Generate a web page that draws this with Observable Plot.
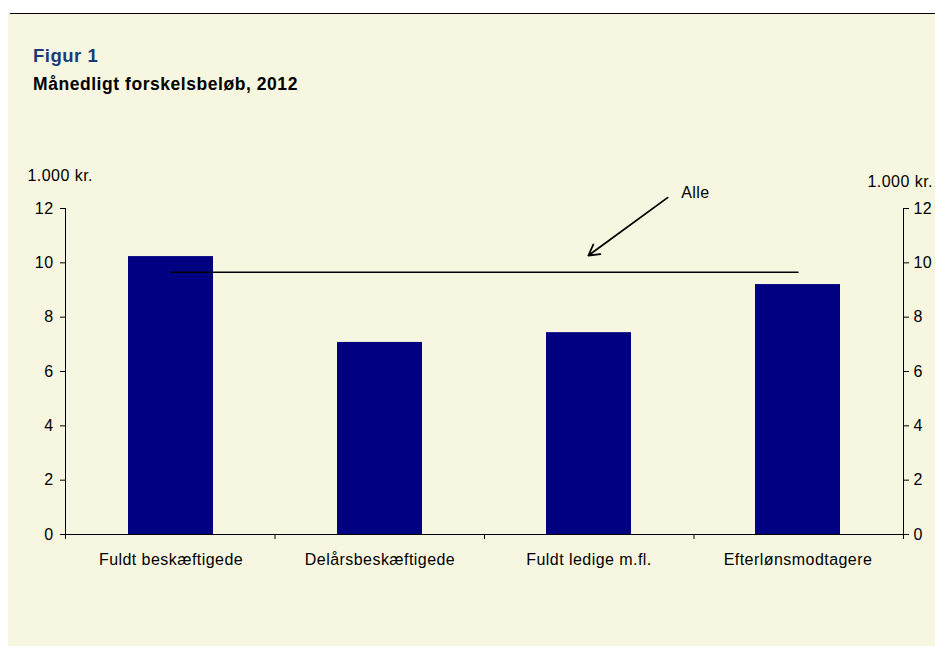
<!DOCTYPE html>
<html><head><meta charset="utf-8">
<script src="https://cdn.jsdelivr.net/npm/d3@7"></script>
<script src="https://cdn.jsdelivr.net/npm/@observablehq/plot@0.6"></script>
<style>
body{margin:0;background:#fff;font-family:"Liberation Sans",Arial,sans-serif;}
#wrap{position:relative;width:935px;height:647px;overflow:hidden;}
#rule{position:absolute;left:10px;top:12.5px;width:925px;height:1.4px;background:#000;}
#panel{position:absolute;left:8px;top:14px;right:0;bottom:1px;background:#F7F7E1;}
.t{position:absolute;left:33px;white-space:nowrap;font-weight:bold;}
#fig{top:47px;font-size:18.5px;line-height:18.5px;letter-spacing:0.5px;color:#1a3a78;}
#sub{top:76px;font-size:17.5px;line-height:17.5px;letter-spacing:0.55px;color:#000;}
.plotbox{position:absolute;left:0;top:130px;}
.plotbox svg text{letter-spacing:0.45px;}
</style></head><body>
<div id="wrap"><div id="rule"></div><div id="panel"></div>
<div class="t" id="fig">Figur 1</div><div class="t" id="sub">Månedligt forskelsbeløb, 2012</div>
<div class="plotbox" id="main"></div><div class="plotbox" id="over"></div></div>
<script>
const categories = ["Fuldt beskæftigede", "Delårsbeskæftigede", "Fuldt ledige m.fl.", "Efterlønsmodtagere"];
const values = [10.23, 7.07, 7.43, 9.2];
const alleValue = 9.65;
const yTicks = [0, 2, 4, 6, 8, 10, 12];
const unitLabel = "1.000 kr.";
const alleLabel = "Alle";
// annotation anchors in category-index units (0..4 across the frame) and value units
const arrowFrom = {x: 2.874, y: 12.40};
const arrowTo = {x: 2.496, y: 10.27};
const alleLabelPos = {x: 3.007, y: 12.40};

const font = '"Liberation Sans", Arial, sans-serif';
const common = {
  width: 935, height: 470,
  marginTop: 78, marginRight: 32, marginBottom: 66, marginLeft: 65,
  style: {background: "transparent", fontFamily: font, fontSize: "16px", color: "#000", overflow: "visible"}
};

const data = categories.map((c, i) => ({c, v: values[i]}));
const alleData = [categories[0], categories[categories.length - 1]].map(c => ({c, v: alleValue}));

const main = Plot.plot({
  ...common,
  x: {type: "band", domain: categories, paddingInner: 0.595, paddingOuter: 0.2975, axis: null},
  y: {domain: [0, 12], axis: null},
  marks: [
    Plot.barY(data, {x: "c", y: "v", fill: "#000080"}),
    Plot.line(alleData, {x: "c", y: "v", stroke: "#000", strokeWidth: 1.5}),
    Plot.axisX({tickSize: 0, tickPadding: 19, label: null}),
    Plot.axisY({anchor: "left", ticks: yTicks, tickSize: 5, tickPadding: 7, label: null}),
    Plot.axisY({anchor: "right", ticks: yTicks, tickSize: 5, tickPadding: 5, label: null})
  ]
});
document.getElementById("main").appendChild(main);

const over = Plot.plot({
  ...common,
  x: {type: "linear", domain: [0, categories.length], axis: null},
  y: {domain: [0, 12], axis: null},
  marks: [
    Plot.ruleX([0, categories.length], {y1: 0, y2: 12, stroke: "#000"}),
    Plot.ruleY([0], {stroke: "#000"}),
    Plot.axisX({ticks: d3.range(categories.length + 1), tickSize: 5, tickFormat: () => "", label: null}),
    Plot.arrow([0], {x1: arrowFrom.x, y1: arrowFrom.y, x2: arrowTo.x, y2: arrowTo.y, stroke: "#000", strokeWidth: 1.8, headLength: 10}),
    Plot.text([alleLabel], {x: alleLabelPos.x, y: alleLabelPos.y, text: d => d, lineAnchor: "bottom", textAnchor: "middle"}),
    Plot.text([unitLabel], {text: d => d, frameAnchor: "top-left", dx: -38, dy: -28, textAnchor: "start", lineAnchor: "bottom"}),
    Plot.text([unitLabel], {text: d => d, frameAnchor: "top-right", dx: -36, dy: -22, textAnchor: "start", lineAnchor: "bottom"})
  ]
});
document.getElementById("over").appendChild(over);
</script>
</body></html>
